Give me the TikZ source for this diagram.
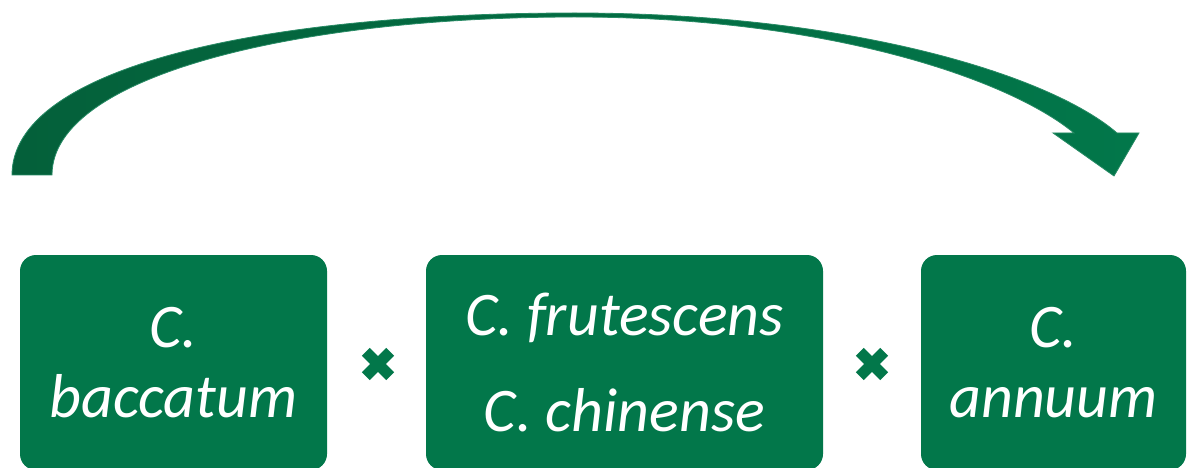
\documentclass[tikz,border=0pt]{standalone}
\usepackage{fontspec}
\setmainfont{Carlito}
\definecolor{boxgreen}{HTML}{02774A}
\definecolor{arrowdark}{HTML}{04603A}
\begin{document}
\begin{tikzpicture}[x=1pt,y=-1pt,
  box/.style={fill=boxgreen, rounded corners=16pt, text=white,
    font=\fontsize{62}{70}\selectfont\itshape, align=center,
    inner sep=0pt, minimum height=215pt},
  xmarkbox/.style={minimum size=24pt, inner sep=0pt},
  xline/.style={draw=boxgreen, line width=11pt, line cap=butt},
  bigarrow/.style={left color=arrowdark, right color=boxgreen, draw=boxgreen!85!white, line width=0.8pt}]
\useasboundingbox (0,0) rectangle (1187,468);
\clip (0,0) rectangle (1187,468);

% boxes
\node[box, minimum width=307pt] (bac) at (173.5,362.5) {C.\\baccatum};
\node[box, minimum width=397pt] (fru) at (624.5,362.5) {C. frutescens\\[26pt]C. chinense};
\node[box, minimum width=265pt] (ann) at (1053.5,362.5) {C.\\annuum};

% cross marks
\node[xmarkbox] (x1) at (378,364) {};
\node[xmarkbox] (x2) at (872,364) {};
\draw[xline] (x1.south west) -- (x1.north east) (x1.north west) -- (x1.south east);
\draw[xline] (x2.south west) -- (x2.north east) (x2.north west) -- (x2.south east);

% curved arrow
\coordinate (aol) at (12,175);
\coordinate (ail) at (52,175);
\coordinate (aot) at (575,13);
\coordinate (ait) at (575,17);
\coordinate (aon) at (1117,133);
\coordinate (ain) at (1074,133);
\coordinate (awr) at (1139,133);
\coordinate (awl) at (1053,133);
\coordinate (atip) at (1114,176);
\path[bigarrow] (aol) .. controls (12,70) and (250,13) .. (aot)
  .. controls (850,13) and (1050,75) .. (aon) -- (awr) -- (atip) -- (awl) -- (ain)
  .. controls (1010,80) and (830,17) .. (ait)
  .. controls (300,17) and (52,75) .. (ail) -- cycle;
\end{tikzpicture}
\end{document}
